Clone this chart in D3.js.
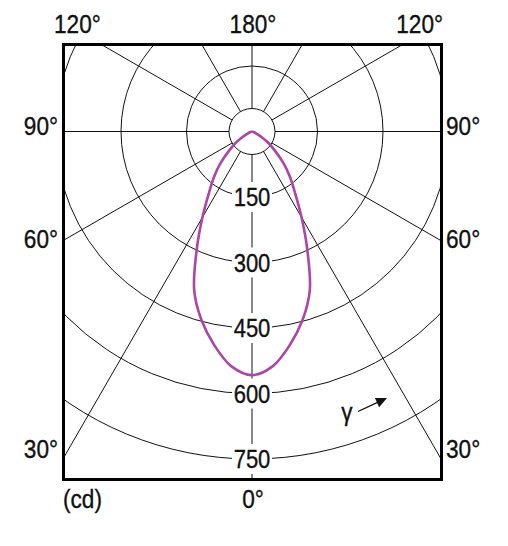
<!DOCTYPE html>
<html>
<head>
<meta charset="utf-8">
<script src="https://cdn.jsdelivr.net/npm/d3@7"></script>
<style>
  html, body { margin: 0; padding: 0; background: #fff; }
  svg { display: block; }
  text { font-family: "Liberation Sans", Arial, sans-serif; fill: #111; stroke: #111; stroke-width: 0.35; }
</style>
</head>
<body>
<svg id="chart" width="508" height="546"></svg>
<script>
// ---- data ----
const gammaDeg = [0, 5, 10, 15, 20, 25, 30, 35, 40, 45, 50, 55, 60, 65, 70, 75, 80, 85, 90];
const intensityCd = [558, 540, 497, 447, 387, 300, 227, 172, 135, 101, 69, 46, 25, 11, 5, 1, 0, 0, 0];
const ringValues = [150, 300, 450, 600, 750];
const ringLabels = ["150", "300", "450", "600", "750"];
const spokeAngles = [0, 30, 60, 90, 120, 150, 180, -30, -60, -90, -120, -150];
const sideAngles = [90, 60, 30];
const sideLabels = ["90°", "60°", "30°"];
const cornerLabel = "120°";
const topLabel = "180°";
const bottomLabel = "0°";
const unitLabel = "(cd)";
const gammaSymbol = "γ";

// ---- layout ----
const svg = d3.select("#chart");
const cx = 252, cy = 131.5;
const frame = {x: 63.5, y: 44.5, w: 378, h: 435};
const rScale = d3.scaleLinear().domain([0, 750]).range([0, 327.5]);
const holeR = 23;

svg.append("defs").append("clipPath").attr("id", "fclip")
  .append("rect").attr("x", frame.x).attr("y", frame.y).attr("width", frame.w).attr("height", frame.h);

const g = svg.append("g").attr("clip-path", "url(#fclip)");
const rad = d => d * Math.PI / 180;

// rings
g.selectAll("circle.ring").data(ringValues).join("circle")
  .attr("class", "ring")
  .attr("cx", cx).attr("cy", cy).attr("r", d => rScale(d))
  .attr("fill", "none").attr("stroke", "#111").attr("stroke-width", 1);

// spokes (gamma measured from downward vertical)
g.selectAll("line.spoke").data(spokeAngles).join("line")
  .attr("class", "spoke")
  .attr("x1", cx).attr("y1", cy)
  .attr("x2", d => cx + 1000 * Math.sin(rad(d)))
  .attr("y2", d => cy + 1000 * Math.cos(rad(d)))
  .attr("stroke", "#111").attr("stroke-width", 1);

// hole
g.append("circle").attr("cx", cx).attr("cy", cy).attr("r", holeR)
  .attr("fill", "#fff").attr("stroke", "#111").attr("stroke-width", 1);

// ring labels with white boxes
const rl = g.selectAll("g.rl").data(ringValues).join("g")
  .attr("class", "rl")
  .attr("transform", d => `translate(${cx},${cy + rScale(d)})`);
rl.append("rect").attr("x", -20).attr("y", -15).attr("width", 40).attr("height", 30).attr("fill", "#fff");
rl.append("text")
  .attr("transform", "scale(0.88,1)")
  .attr("text-anchor", "middle").attr("dy", "0.36em")
  .attr("font-size", 25)
  .text((d, i) => ringLabels[i]);

// intensity curve
const pts = [];
for (let i = gammaDeg.length - 1; i > 0; i--) pts.push([-gammaDeg[i], intensityCd[i]]);
for (let i = 0; i < gammaDeg.length; i++) pts.push([gammaDeg[i], intensityCd[i]]);
const radial = d3.lineRadial()
  .angle(d => Math.PI - rad(d[0]))
  .radius(d => rScale(d[1]))
  .curve(d3.curveCatmullRom.alpha(0.5));
svg.append("path")
  .attr("d", radial(pts))
  .attr("transform", `translate(${cx},${cy})`)
  .attr("fill", "none").attr("stroke", "#ad45a8").attr("stroke-width", 2.6);

// frame
svg.append("rect").attr("x", frame.x).attr("y", frame.y).attr("width", frame.w).attr("height", frame.h)
  .attr("fill", "none").attr("stroke", "#000").attr("stroke-width", 3);

// outer labels
function label(x, y, txt, anchor) {
  svg.append("g").attr("transform", `translate(${x},${y})`)
    .append("text").attr("transform", "scale(0.87,1)")
    .attr("text-anchor", anchor).attr("font-size", 26).text(txt);
}
label(54, 33, cornerLabel, "start");
label(cx + 1, 33, topLabel, "middle");
label(443, 33, cornerLabel, "end");
const sideBase = [135, 248, 458];
sideAngles.forEach((a, i) => {
  label(58, sideBase[i], sideLabels[i], "end");
  label(446, sideBase[i], sideLabels[i], "start");
});
label(cx + 1, 508, bottomLabel, "middle");
label(63, 508, unitLabel, "start");

// gamma arrow
label(347, 421, gammaSymbol, "middle");
const ax1 = 358, ay1 = 411.5, ax2 = 387, ay2 = 398;
const ang = Math.atan2(ay2 - ay1, ax2 - ax1);
svg.append("line").attr("x1", ax1).attr("y1", ay1)
  .attr("x2", ax2 - 8 * Math.cos(ang)).attr("y2", ay2 - 8 * Math.sin(ang))
  .attr("stroke", "#111").attr("stroke-width", 1.3);
const hw = 5, hl = 11;
const bx = ax2 - hl * Math.cos(ang), by = ay2 - hl * Math.sin(ang);
svg.append("path")
  .attr("d", `M${ax2},${ay2} L${bx - hw * Math.sin(ang)},${by + hw * Math.cos(ang)} L${bx + hw * Math.sin(ang)},${by - hw * Math.cos(ang)} Z`)
  .attr("fill", "#111");
</script>
</body>
</html>
